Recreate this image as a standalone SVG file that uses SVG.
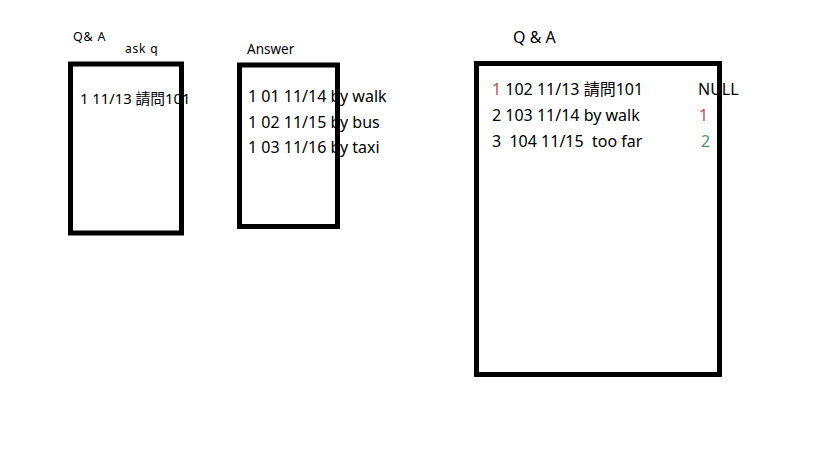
<svg xmlns="http://www.w3.org/2000/svg" width="819" height="460" viewBox="0 0 819 460">
<style>
text{font-family:"Noto Sans","Noto Sans CJK TC",sans-serif;fill:#000;white-space:pre}
.box{fill:none;stroke:#000;stroke-width:5}
.red{fill:#c0504d}
.green{fill:#4f9a5a}
</style>
<rect width="819" height="460" fill="#fff"/>
<g id="labels">
<text x="73" y="40.5" font-size="12.5" letter-spacing="0.8" xml:space="preserve">Q&amp; A</text>
<text x="125" y="53" font-size="12" letter-spacing="0.8">ask q</text>
<text x="247" y="54" font-size="13.5">Answer</text>
<text x="513" y="43" font-size="16" xml:space="preserve">Q &amp; A</text>
</g>
<g id="ask">
<text x="80" y="104" font-size="14.8">1 11/13 請問101</text>
<rect class="box" x="70.5" y="64" width="111" height="169"/>
</g>
<g id="answer">
<text x="248" y="102" font-size="16">1 01 11/14 by walk</text>
<text x="248" y="127.5" font-size="16">1 02 11/15 by bus</text>
<text x="248" y="153" font-size="16">1 03 11/16 by taxi</text>
<rect class="box" x="239.5" y="65" width="98" height="161.5"/>
</g>
<g id="qa">
<text x="492" y="95" font-size="16"><tspan class="red">1</tspan> 102 11/13 請問101</text>
<text x="492" y="121" font-size="16">2 103 11/14 by walk</text>
<text x="492" y="147" font-size="16" xml:space="preserve">3  104 11/15  too far</text>
<text x="698" y="95" font-size="16">NULL</text>
<text x="699" y="121" font-size="16" class="red">1</text>
<text x="701" y="147" font-size="16" class="green">2</text>
<rect class="box" x="476.5" y="63.5" width="243" height="311"/>
</g>
<g id="connectors"/>
</svg>
